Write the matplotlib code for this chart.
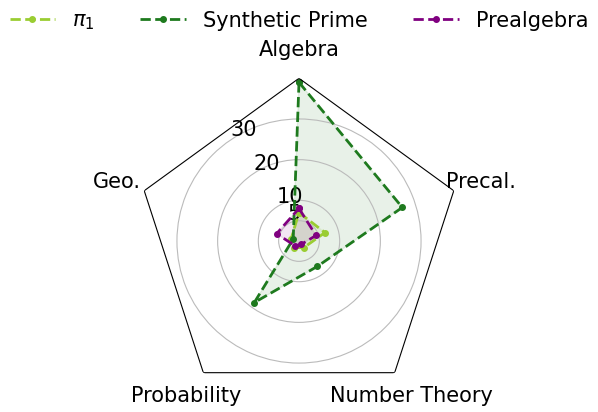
import numpy as np
import matplotlib
matplotlib.use("Agg")
import matplotlib.pyplot as plt

categories = ["Algebra", "Precal.", "Number Theory", "Probability", "Geo."]
pi1 = [7.0, 6.7, 2.0, 2.0, 2.0]
synthetic = [39.0, 26.7, 7.7, 18.7, 1.5]
prealgebra = [8.0, 4.4, 1.0, 1.5, 5.8]
rticks = [5, 10, 20, 30]
rmax = 40

fig = plt.figure(figsize=(5.98, 4.12), dpi=100)
ax = fig.add_axes([0.2, 0.02, 0.6, 0.79], projection="polar")
ax.set_theta_offset(np.pi / 2)
ax.set_theta_direction(-1)
theta = np.linspace(0, 2 * np.pi, len(categories), endpoint=False)

def closed(v):
    return np.concatenate([v, v[:1]])

tc = closed(theta)
for vals, col, lab in [(pi1, "#9acd32", r"$\pi_1$"), (synthetic, "#1e7a1e", "Synthetic Prime"), (prealgebra, "#800080", "Prealgebra")]:
    ax.plot(tc, closed(np.array(vals)), "--", color=col, marker="o", markersize=4, lw=2, label=lab)
    ax.fill(tc, closed(np.array(vals)), color=col, alpha=0.1)

ax.plot(tc, [rmax] * len(tc), color="black", lw=0.8)
ax.spines["polar"].set_visible(False)
ax.set_ylim(0, rmax)
ax.set_yticks(rticks)
ax.set_yticklabels([str(t) for t in rticks], fontsize=15)
ax.set_rlabel_position(326)
ax.set_xticks(theta)
ax.set_xticklabels(categories, fontsize=15)
ax.tick_params(axis="x", pad=10)
ax.xaxis.grid(False)
ax.yaxis.grid(True, color="#bbbbbb", lw=0.8)
fig.legend(loc="upper center", ncol=3, frameon=False, fontsize=15, bbox_to_anchor=(0.5, 1.02), columnspacing=2.2, handlelength=2.2)
fig.savefig("out.png")
